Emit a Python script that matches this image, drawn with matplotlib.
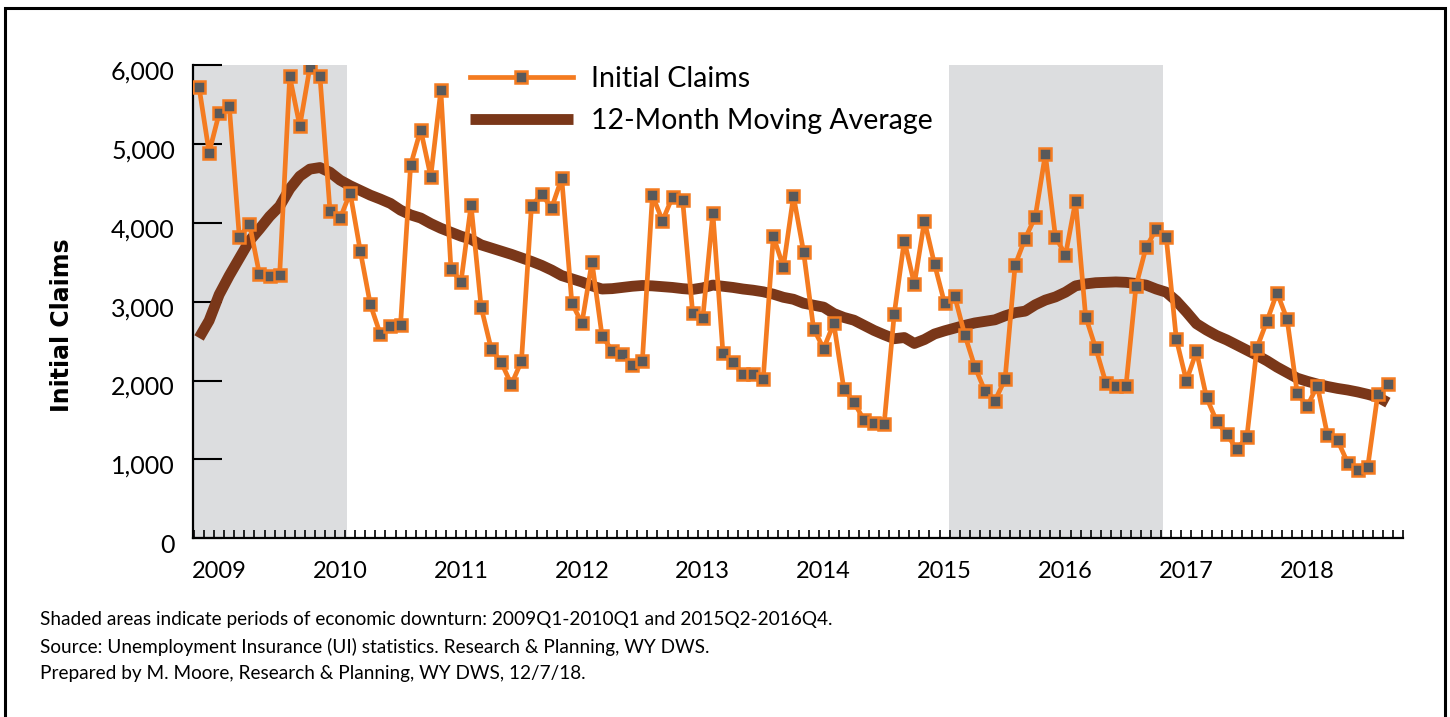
import numpy as np
import pandas as pd
import matplotlib
matplotlib.use('Agg')
import matplotlib.pyplot as plt
from matplotlib.patches import Rectangle
import matplotlib.transforms as mtransforms

# monthly series, Nov 2008 .. Sep 2018
months = pd.period_range('2008-11', periods=119, freq='M')

claims = [5720, 4890, 5390, 5480, 3815, 3990, 3345, 3330, 3340, 5855,
          5225, 5970, 5855, 4145, 4055, 4380, 3645, 2965, 2585, 2690,
          2710, 4730, 5180, 4585, 5680, 3420, 3250, 4225, 2930, 2400,
          2230, 1950, 2245, 4215, 4360, 4190, 4565, 2985, 2725, 3505,
          2565, 2380, 2335, 2195, 2250, 4350, 4025, 4330, 4290, 2850,
          2790, 4125, 2350, 2230, 2080, 2080, 2025, 3830, 3440, 4340,
          3635, 2655, 2405, 2725, 1895, 1725, 1500, 1465, 1450, 2840,
          3775, 3220, 4025, 3475, 2980, 3070, 2580, 2175, 1870, 1745,
          2015, 3465, 3800, 4075, 4870, 3825, 3590, 4275, 2810, 2410,
          1975, 1930, 1925, 3200, 3690, 3915, 3815, 2525, 1995, 2370,
          1785, 1485, 1320, 1130, 1280, 2415, 2755, 3115, 2775, 1840,
          1675, 1935, 1310, 1245, 960, 865, 905, 1830, 1955]

moving_avg = [2540, 2760, 3090, 3330, 3550, 3770, 3920, 4080, 4210, 4430,
              4590, 4680, 4700, 4640, 4540, 4470, 4410, 4350, 4300, 4245,
              4160, 4100, 4060, 3990, 3930, 3880, 3830, 3790, 3720, 3680,
              3640, 3600, 3555, 3510, 3460, 3400, 3330, 3290, 3250, 3200,
              3160, 3165, 3180, 3195, 3205, 3200, 3190, 3180, 3165, 3155,
              3175, 3210, 3195, 3180, 3160, 3145, 3125, 3095, 3055, 3030,
              2980, 2955, 2930, 2850, 2800, 2765, 2700, 2635, 2580, 2530,
              2545, 2470, 2520, 2590, 2630, 2665, 2700, 2730, 2750, 2770,
              2820, 2860, 2880, 2960, 3020, 3060, 3120, 3200, 3225, 3240,
              3245, 3250, 3245, 3230, 3210, 3160, 3120, 3010, 2870, 2720,
              2640, 2570, 2515, 2450, 2385, 2320, 2250, 2170, 2100, 2030,
              1990, 1955, 1925, 1900, 1880, 1855, 1825, 1790, 1720]

# shaded downturn periods (first / last month covered)
downturns = [('2008-11', '2010-01'), ('2015-02', '2016-10')]

y_ticks = [0, 1000, 2000, 3000, 4000, 5000, 6000]
notes = ['Shaded areas indicate periods of economic downturn: 2009Q1-2010Q1 and 2015Q2-2016Q4.',
         'Source: Unemployment Insurance (UI) statistics. Research & Planning, WY DWS.',
         'Prepared by M. Moore, Research & Planning, WY DWS, 12/7/18.']

plt.rcParams['font.family'] = ['Lato', 'DejaVu Sans']
ORANGE = '#F47B20'
BROWN = '#7A3719'
GREY = '#58595B'

W, H = 1450, 717
fig = plt.figure(figsize=(W / 100, H / 100), dpi=100)
ax = fig.add_axes([193 / W, 1 - 538.3 / H, (1403 - 193) / W, (538.3 - 65) / H])

x = np.arange(len(months))
for a, b in downturns:
    i0 = (pd.Period(a, 'M') - months[0]).n
    i1 = (pd.Period(b, 'M') - months[0]).n
    ax.axvspan(i0 - 0.6, i1 + 0.65, color='#DCDDDF', lw=0, zorder=0)

ax.plot(x, moving_avg, color=BROWN, lw=7.8, solid_capstyle='butt', zorder=2,
        label='12-Month Moving Average')
ax.plot(x, claims, color=ORANGE, lw=3.4, marker='s', ms=9, mfc=GREY, mec=ORANGE,
        mew=1.8, zorder=3, label='Initial Claims')

ax.set_xlim(-0.6, 119.4)
ax.set_ylim(0, 6000)

for s in ['top', 'right']:
    ax.spines[s].set_visible(False)
for s in ['left', 'bottom']:
    ax.spines[s].set_linewidth(1.6)

# y axis
ax.set_yticks(y_ticks)
ax.set_yticklabels([f'{v:,}' for v in y_ticks])
ax.tick_params(axis='y', direction='in', length=21, width=1.5, pad=13, labelsize=18)
off = mtransforms.ScaledTranslation(0, -5 / 100, fig.dpi_scale_trans)
for lab in ax.get_yticklabels():
    lab.set_transform(lab.get_transform() + off)

# x axis: year labels at January, monthly ticks
jan = [i for i, m in enumerate(months) if m.month == 1]
ax.set_xticks(jan)
ax.set_xticklabels([str(months[i].year) for i in jan])
ax.set_xticks(np.arange(-0.5, 120, 1), minor=True)
ax.tick_params(axis='x', which='major', length=0, pad=16, labelsize=17)
ax.tick_params(axis='x', which='minor', direction='in', length=6, width=1.2)

fig.text(62 / W, 1 - 325 / H, 'Initial Claims', rotation=90, fontsize=17,
         fontweight='bold', ha='center', va='center', family='DejaVu Sans')

h, l = ax.get_legend_handles_labels()
fig.legend(h[::-1], l[::-1], loc='upper left', bbox_to_anchor=(470 / W, 1 - 66 / H),
           frameon=False, fontsize=20.5, handlelength=3.6, handletextpad=0.65,
           borderpad=0, borderaxespad=0, labelspacing=0.55)

for k, t in enumerate(notes):
    fig.text(40 / W, 1 - (620 + 26.5 * k) / H, t, fontsize=13.7, va='center')

fig.patches.append(Rectangle((5 / W, -0.05), 1440 / W, 1.05 - 8 / H, transform=fig.transFigure,
                             fill=False, ec='black', lw=2.2))

fig.savefig('out.png', dpi=100)
